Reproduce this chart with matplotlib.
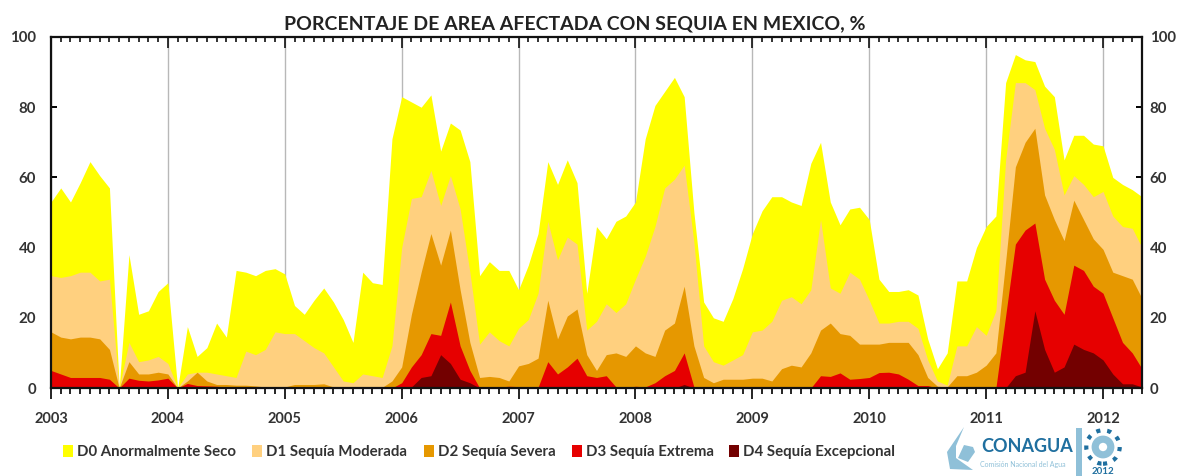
import numpy as np
import matplotlib
matplotlib.use('Agg')
import matplotlib.pyplot as plt
from matplotlib.patches import Rectangle, Circle, Polygon
from matplotlib.transforms import ScaledTranslation

# monthly values, jan 2003 to may 2012 (cumulative, each one includes the ones below)
d0 = [53, 57, 53, 58.5, 64.5, 60.5, 57, 0, 38, 21, 22, 27.5,
      30, 0, 17.5, 9, 11.5, 18.5, 14.5, 33.5, 33, 32, 33.5, 34,
      32.5, 23.5, 21, 25, 28.5, 24.5, 19.5, 13, 33, 30, 29.5, 71,
      83, 81.5, 80, 83.5, 67.5, 75.5, 73.5, 64.5, 32, 36, 33.5, 33.5,
      28, 35, 44, 64.5, 58, 65, 58.5, 27, 46, 42.5, 47.5, 49,
      53, 71, 80.5, 84.5, 88.5, 83, 50, 24.5, 20, 19, 25.5, 34,
      44, 50.5, 54.5, 54.5, 53, 52, 64, 70, 53, 46.5, 51, 51.5,
      48, 31, 27.5, 27.5, 28, 26.5, 14, 5.5, 10, 30.5, 30.5, 40,
      46, 49, 87, 95, 93.5, 93, 86, 83, 65, 72, 72, 69.5,
      69, 60, 58, 56.5, 54.5]
d1 = [32, 31.5, 32, 33, 33, 30.5, 31, 0, 13, 7.5, 8, 9,
      7, 0, 4, 4.5, 4.5, 4, 3.5, 3, 10.5, 9.5, 11, 16,
      15.5, 15.5, 13.5, 11.5, 10, 6, 2, 1.5, 4, 3.5, 3, 12,
      40, 54, 54.5, 62, 52, 60.5, 51, 33, 12.5, 16, 13.5, 12,
      17, 19.5, 27, 47.5, 36.5, 43, 41, 16.5, 19, 24, 21.5, 24,
      31, 37.5, 46, 57, 59.5, 63.5, 41.5, 12, 7.5, 6.5, 8, 9.5,
      16, 16.5, 19, 25, 26, 24, 28, 48, 28.5, 27, 33, 31,
      25, 18.5, 18.5, 19, 19, 17, 8, 2, 0.8, 12, 12, 17.5,
      15, 22, 65, 87, 87, 85, 74, 68, 55, 60.5, 58, 54.5,
      56, 49, 46, 45.5, 40]
d2 = [16, 14.5, 14, 14.5, 14.5, 14, 11, 0, 7.5, 4, 4, 4.5,
      4, 0, 2, 4.5, 2, 1, 1, 0.8, 0.8, 0.6, 0.3, 0.3,
      0.3, 1, 1, 1, 1.2, 0.3, 0.2, 0.2, 0.2, 0.2, 0.2, 2,
      6, 21, 33, 44, 35, 45, 28, 13, 3, 3.3, 3, 2,
      6.3, 7, 8.5, 25, 14, 20.5, 22.5, 9.5, 5, 9.5, 10, 9,
      12, 10, 9, 16.5, 18.5, 29, 12, 3, 1.5, 2.5, 2.5, 2.5,
      2.8, 2.8, 2, 5.5, 6.5, 6, 10, 16.5, 18.5, 15.5, 15, 12.5,
      12.5, 12.5, 13, 13, 13, 9.5, 3, 0.5, 0.3, 3.5, 3.5, 4.5,
      6.5, 10, 36, 63, 70, 74, 55, 48, 42, 53.5, 48, 42.5,
      39.5, 33, 32, 31, 25.5]
d3 = [5, 4, 3, 3, 3, 3, 2.5, 0, 2.8, 2.2, 2, 2.3,
      2.8, 0, 1.3, 0.7, 0.6, 0.5, 0.3, 0.2, 0.2, 0.1, 0, 0,
      0, 0, 0, 0, 0, 0, 0, 0, 0, 0, 0, 0,
      1.5, 6, 9.5, 15.5, 15, 24.5, 12, 5, 0, 0.1, 0.3, 0.5,
      0.4, 0.2, 0.2, 7.5, 4, 6, 8.5, 3.5, 3, 3.5, 0.3, 0.1,
      0.5, 0.3, 1.5, 3.5, 5, 10, 0.3, 0, 0, 0, 0, 0,
      0, 0, 0, 0, 0, 0, 0, 3.5, 3.3, 4.3, 2.5, 2.7,
      3, 4.4, 4.5, 4, 2.5, 0.7, 0.7, 0, 0, 0, 0, 0,
      0, 0, 20.5, 41, 45, 47, 31, 25, 21, 35, 33.5, 29,
      27, 20, 13, 10, 5.5]
d4 = [0, 0, 0, 0, 0, 0, 0, 0, 0, 0, 0, 0,
      0, 0, 0, 0, 0, 0, 0, 0, 0, 0, 0, 0,
      0, 0, 0, 0, 0, 0, 0, 0, 0, 0, 0, 0,
      0, 0.3, 3, 3.5, 9.5, 7, 2.5, 1.5, 0, 0, 0, 0,
      0, 0, 0, 0, 0, 0, 0.3, 0, 0, 0, 0, 0,
      0, 0, 0, 0, 0, 1, 0, 0, 0, 0, 0, 0,
      0, 0, 0, 0, 0, 0, 0, 0, 0, 0, 0, 0,
      0, 0, 0, 0, 0, 0, 0, 0, 0, 0, 0, 0,
      0, 0, 0, 3.5, 4.5, 22, 11, 4.5, 6, 12.5, 11, 10,
      8, 4, 1.2, 1.2, 0.3]

years = ['2003', '2004', '2005', '2006', '2007', '2008', '2009', '2010', '2011', '2012']
series = [d0, d1, d2, d3, d4]
names = ['D0 Anormalmente Seco', 'D1 Sequía Moderada', 'D2 Sequía Severa',
         'D3 Sequía Extrema', 'D4 Sequía Excepcional']
colors = ['#ffff00', '#ffd07f', '#e69800', '#e60000', '#730000']
legend_x = [63, 252, 424, 572, 729]

W, H = 1177, 476
plt.rcParams['font.family'] = ['Lato', 'DejaVu Sans']

fig = plt.figure(figsize=(W / 100, H / 100), dpi=100)
ax = fig.add_axes([51 / W, 1 - 388 / H, 1091 / W, 351 / H])

months = np.arange(len(d0))
for s, c in zip(series, colors):
    ax.fill_between(months, 0, s, color=c, lw=0, zorder=2)

ax.set_xlim(0, months[-1])
ax.set_ylim(0, 100)
year_pos = np.arange(len(years)) * 12
ax.set_xticks(year_pos)
ax.set_xticklabels(years)
ax.set_xticks(months, minor=True)
ax.set_yticks(range(0, 101, 20))
ax.grid(axis='x', color='#b8b8b8', lw=1, zorder=1)
ax.set_axisbelow(True)
for sp in ax.spines.values():
    sp.set_linewidth(1.6)
    sp.set_color('#111111')
    sp.set_zorder(5)
ax.tick_params(axis='x', which='major', length=8, width=1.2, direction='out', bottom=True, top=False,
               labelsize=10.5, pad=9, labelcolor='#333333')
ax.tick_params(axis='x', which='minor', length=4, width=1.2, direction='out', bottom=True, top=False)
ax.tick_params(axis='y', length=4, width=1.4, direction='in', left=True, right=True,
               labelleft=True, labelright=True, labelsize=10.8, pad=5.5, labelcolor='#333333')
for lab in ax.get_xticklabels() + ax.get_yticklabels():
    lab.set_fontweight('bold')
for t in ax.yaxis.get_major_ticks():
    # left labels sit a bit further from the axis than the right ones
    t.label1.set_transform(t.label1.get_transform() + ScaledTranslation(-5.3 / 72, 0, fig.dpi_scale_trans))
    t.label2.set_fontweight('bold')

# ticks hanging from the top edge
for m in months:
    ax.plot([m, m], [100, 98.5 if m % 12 else 97], color='#111111', lw=1.2, zorder=5,
            clip_on=False, solid_capstyle='butt')

fig.text(575 / W, 1 - 24 / H, 'PORCENTAJE DE AREA AFECTADA CON SEQUIA EN MEXICO, %',
         ha='center', va='center', fontsize=14, fontweight='bold', color='#222222')

for x, name, c in zip(legend_x, names, colors):
    fig.add_artist(Rectangle((x / W, 1 - 457 / H), 10 / W, 12 / H, color=c, lw=0,
                             transform=fig.transFigure))
    fig.text((x + 14) / W, 1 - 452 / H, name, ha='left', va='center', fontsize=10.8,
             fontweight='bold', color='#333333')

# logo, roughly
blue = '#1f6f9f'
pale = '#8fc0d8'
fig.text(981 / W, 1 - 447 / H, 'CONAGUA', ha='left', va='center', fontsize=13, fontweight='bold',
         color=blue)
fig.text(980 / W, 1 - 465 / H, 'Comisión Nacional del Agua', ha='left', va='center', fontsize=5,
         color=pale)


def logo_shape(points):
    pts = np.array(points, dtype=float)
    return np.column_stack([pts[:, 0] / W, 1 - pts[:, 1] / H])


fig.add_artist(Polygon(logo_shape([(964, 427), (947, 452), (950, 469), (973, 470), (956, 458), (956, 446)]),
                       closed=True, color=pale, lw=0, transform=fig.transFigure))
fig.add_artist(Polygon(logo_shape([(958, 458), (964, 445), (973, 447), (975, 452), (968, 462)]),
                       closed=True, color=pale, lw=0, transform=fig.transFigure))
fig.add_artist(Rectangle((1076 / W, 0), 6 / W, 48 / H, color=pale, lw=0, transform=fig.transFigure))

ax2 = fig.add_axes([1084 / W, 1 - 466 / H, 38 / W, 38 / H])
ax2.set_xlim(-1, 1)
ax2.set_ylim(-1, 1)
ax2.axis('off')
ax2.add_patch(Circle((0, 0), 0.88, fc='none', ec=blue, lw=3, ls=':'))
ax2.add_patch(Circle((0, 0), 0.6, fc=pale, lw=0))
ax2.add_patch(Circle((0, 0), 0.22, fc='white', lw=0))
fig.text(1103 / W, 1 - 472 / H, '2012', ha='center', va='center', fontsize=7, fontweight='bold', color=blue)

fig.savefig('out.png', dpi=100)
